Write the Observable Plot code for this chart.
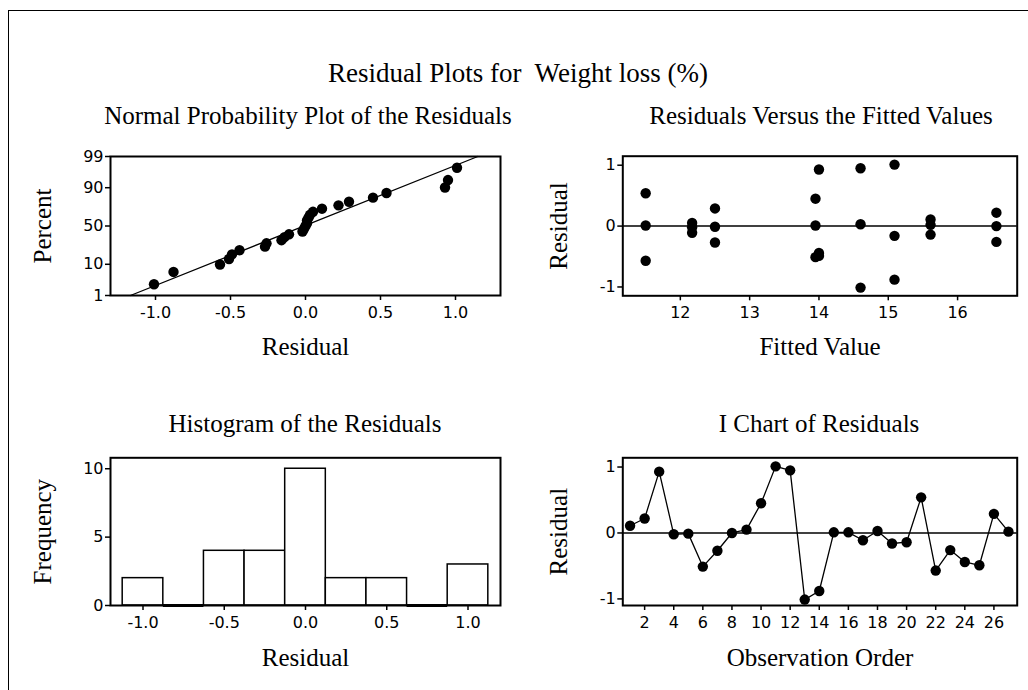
<!DOCTYPE html>
<html>
<head>
<meta charset="utf-8">
<script src="https://cdn.jsdelivr.net/npm/d3@7"></script>
<script src="https://cdn.jsdelivr.net/npm/@observablehq/plot@0.6"></script>
<style>
  html, body { margin: 0; padding: 0; background: #fff; overflow: hidden; }
  #page { position: relative; width: 1028px; height: 690px; overflow: hidden; background: #fff;
          font-family: "Liberation Serif", "Times New Roman", serif; color: #000; }
  #frame { position: absolute; left: 8px; top: 10px; width: 1200px; height: 900px;
           border: 1px solid #000; box-sizing: border-box; }
  .title { position: absolute; white-space: pre; text-align: center; line-height: 1; }
  .main { font-size: 27px; width: 800px; left: 118px; top: 60px; }
  .sub { font-size: 25px; width: 500px; }
  .panel { position: absolute; }
  .panel svg g[aria-label$="-axis label"] { font-family: "Liberation Serif", "Times New Roman", serif; font-size: 25px; }
</style>
</head>
<body>
<div id="page">
  <div id="frame"></div>
  <div class="title main">Residual Plots for  Weight loss (%)</div>
  <div class="title sub" style="left:58px;top:103px">Normal Probability Plot of the Residuals</div>
  <div class="title sub" style="left:571px;top:103px">Residuals Versus the Fitted Values</div>
  <div class="title sub" style="left:55px;top:411px">Histogram of the Residuals</div>
  <div class="title sub" style="left:569px;top:411px">I Chart of Residuals</div>
  <div class="panel" id="normal" style="left:0px;top:140px;width:520px"></div>
  <div class="panel" id="fitted" style="left:514px;top:140px;width:514px"></div>
  <div class="panel" id="hist" style="left:0px;top:440px;width:520px"></div>
  <div class="panel" id="ichart" style="left:514px;top:440px;width:514px"></div>
</div>
<script>
// Residuals in observation order, with the fitted value of each observation
const residuals = [0.11, 0.22, 0.93, -0.02, -0.01, -0.51, -0.27, 0.00, 0.05, 0.45,
                   1.01, 0.95, -1.01, -0.88, 0.01, 0.01, -0.11, 0.03, -0.16, -0.14,
                   0.54, -0.57, -0.26, -0.44, -0.49, 0.29, 0.02];
const fittedValues = [15.61, 16.56, 14.0, 12.17, 12.5, 13.95, 12.5, 16.56, 12.17, 13.95,
                      15.09, 14.6, 14.6, 15.09, 11.5, 13.95, 12.17, 14.6, 15.09, 15.61,
                      11.5, 11.5, 16.56, 14.0, 14.0, 12.5, 15.61];

// Histogram bins (midpoints) and their frequencies
const histMidpoints = [-1.0, -0.75, -0.5, -0.25, 0.0, 0.25, 0.5, 0.75, 1.0];
const histCounts = [2, 0, 4, 4, 10, 2, 2, 0, 3];

// Tick values
const percentTicks = [1, 10, 50, 90, 99];
const residualTicks = [-1, -0.5, 0, 0.5, 1];
const fittedTicks = [12, 13, 14, 15, 16];
const residualYTicks = [-1, 0, 1];
const freqTicks = [0, 5, 10];
const orderTicks = [2, 4, 6, 8, 10, 12, 14, 16, 18, 20, 22, 24, 26];

// Inverse standard normal CDF (Acklam's rational approximation)
function probit(p) {
  const a = [-3.969683028665376e+01, 2.209460984245205e+02, -2.759285104469687e+02, 1.383577518672690e+02, -3.066479806614716e+01, 2.506628277459239e+00];
  const b = [-5.447609879822406e+01, 1.615858368580409e+02, -1.556989798598866e+02, 6.680131188771972e+01, -1.328068155288572e+01];
  const c = [-7.784894002430293e-03, -3.223964580411365e-01, -2.400758277161838e+00, -2.549732539343734e+00, 4.374664141464968e+00, 2.938163982698783e+00];
  const d = [7.784695709041462e-03, 3.224671290700398e-01, 2.445134137142996e+00, 3.754408661907416e+00];
  const pl = 0.02425;
  if (p < pl) {
    const q = Math.sqrt(-2 * Math.log(p));
    return (((((c[0]*q+c[1])*q+c[2])*q+c[3])*q+c[4])*q+c[5]) / ((((d[0]*q+d[1])*q+d[2])*q+d[3])*q+1);
  }
  if (p <= 1 - pl) {
    const q = p - 0.5, r = q * q;
    return (((((a[0]*r+a[1])*r+a[2])*r+a[3])*r+a[4])*r+a[5])*q / (((((b[0]*r+b[1])*r+b[2])*r+b[3])*r+b[4])*r+1);
  }
  const q = Math.sqrt(-2 * Math.log(1 - p));
  return -(((((c[0]*q+c[1])*q+c[2])*q+c[3])*q+c[4])*q+c[5]) / ((((d[0]*q+d[1])*q+d[2])*q+d[3])*q+1);
}

const style = {fontFamily: '"DejaVu Sans", sans-serif', fontSize: "16px", background: "transparent", overflow: "visible"};
const ink = "#000";
const oneDecimal = d => d.toFixed(1);
const plain = d => String(d);
const axisCommon = {tickSize: 5, strokeWidth: 1.5, labelAnchor: "center", labelArrow: "none"};

const obs = residuals.map((r, i) => ({order: i + 1, residual: r, fitted: fittedValues[i]}));

// --- Normal probability plot: median ranks on a probit scale, with fitted normal line
const n = residuals.length;
const probPoints = residuals.slice().sort(d3.ascending)
  .map((r, i) => ({residual: r, z: probit((i + 1 - 0.3) / (n + 0.4))}));
const zTicks = percentTicks.map(p => probit(p / 100));
const mu = d3.mean(residuals), sigma = d3.deviation(residuals);
const normalLine = [zTicks[0], zTicks[zTicks.length - 1]].map(z => ({z, residual: mu + sigma * z}));

const normalPlot = Plot.plot({
  width: 520, height: 220,
  marginLeft: 110, marginRight: 20, marginTop: 16, marginBottom: 65,
  style,
  x: {domain: [-1.3, 1.3]},
  y: {domain: [zTicks[0], zTicks[zTicks.length - 1]]},
  marks: [
    Plot.line(normalLine, {x: "residual", y: "z", stroke: ink, strokeWidth: 1.3}),
    Plot.dot(probPoints, {x: "residual", y: "z", r: 5.2, fill: ink}),
    Plot.frame({stroke: ink, strokeWidth: 2}),
    Plot.axisX({...axisCommon, ticks: residualTicks, tickFormat: oneDecimal, tickPadding: 6,
                label: "Residual", labelOffset: 59}),
    Plot.axisY({...axisCommon, ticks: zTicks, tickFormat: z => String(percentTicks[zTicks.indexOf(z)]), tickPadding: 2,
                label: "Percent", labelOffset: 77})
  ]
});
document.getElementById("normal").append(normalPlot);

// --- Residuals versus fitted values
const fittedPlot = Plot.plot({
  width: 514, height: 220,
  marginLeft: 108.3, marginRight: 11.3, marginTop: 15.7, marginBottom: 64.7,
  style,
  x: {domain: [11.17, 16.86]},
  y: {domain: [-1.145, 1.148]},
  marks: [
    Plot.ruleY([0], {stroke: ink, strokeWidth: 1.5}),
    Plot.dot(obs, {x: "fitted", y: "residual", r: 5.2, fill: ink}),
    Plot.frame({stroke: ink, strokeWidth: 2}),
    Plot.axisX({...axisCommon, ticks: fittedTicks, tickFormat: plain, tickPadding: 6,
                label: "Fitted Value", labelOffset: 59}),
    Plot.axisY({...axisCommon, ticks: residualYTicks, tickFormat: plain, tickPadding: 2,
                label: "Residual", labelOffset: 74})
  ]
});
document.getElementById("fitted").append(fittedPlot);

// --- Histogram of the residuals
const binWidth = histMidpoints[1] - histMidpoints[0];
const bins = histMidpoints.map((m, i) => ({x1: m - binWidth / 2, x2: m + binWidth / 2, count: histCounts[i]}));
const histPlot = Plot.plot({
  width: 520, height: 250,
  marginLeft: 110, marginRight: 20, marginTop: 17.3, marginBottom: 85,
  style,
  x: {domain: [-1.2, 1.2]},
  y: {domain: [0, 10.8]},
  marks: [
    Plot.rectY(bins, {x1: "x1", x2: "x2", y: "count", fill: "white", stroke: ink, strokeWidth: 1.5}),
    // empty bins show as a line on the baseline
    Plot.ruleY(bins, {filter: d => d.count === 0, x1: "x1", x2: "x2", y: "count", stroke: ink, strokeWidth: 3}),
    Plot.frame({stroke: ink, strokeWidth: 2}),
    Plot.axisX({...axisCommon, ticks: residualTicks, tickFormat: oneDecimal, tickPadding: 6,
                label: "Residual", labelOffset: 60}),
    Plot.axisY({...axisCommon, ticks: freqTicks, tickFormat: plain, tickPadding: 2,
                label: "Frequency", labelOffset: 77})
  ]
});
document.getElementById("hist").append(histPlot);

// --- I chart of residuals in observation order
const iPlot = Plot.plot({
  width: 514, height: 250,
  marginLeft: 108.3, marginRight: 11.3, marginTop: 17.3, marginBottom: 85,
  style,
  x: {domain: [0.5, 27.6]},
  y: {domain: [-1.10, 1.14]},
  marks: [
    Plot.ruleY([0], {stroke: ink, strokeWidth: 1.5}),
    Plot.line(obs, {x: "order", y: "residual", stroke: ink, strokeWidth: 1.3}),
    Plot.dot(obs, {x: "order", y: "residual", r: 5.2, fill: ink}),
    Plot.frame({stroke: ink, strokeWidth: 2}),
    Plot.axisX({...axisCommon, ticks: orderTicks, tickFormat: plain, tickPadding: 6,
                label: "Observation Order", labelOffset: 60}),
    Plot.axisY({...axisCommon, ticks: residualYTicks, tickFormat: plain, tickPadding: 2,
                label: "Residual", labelOffset: 74})
  ]
});
document.getElementById("ichart").append(iPlot);
</script>
</body>
</html>
